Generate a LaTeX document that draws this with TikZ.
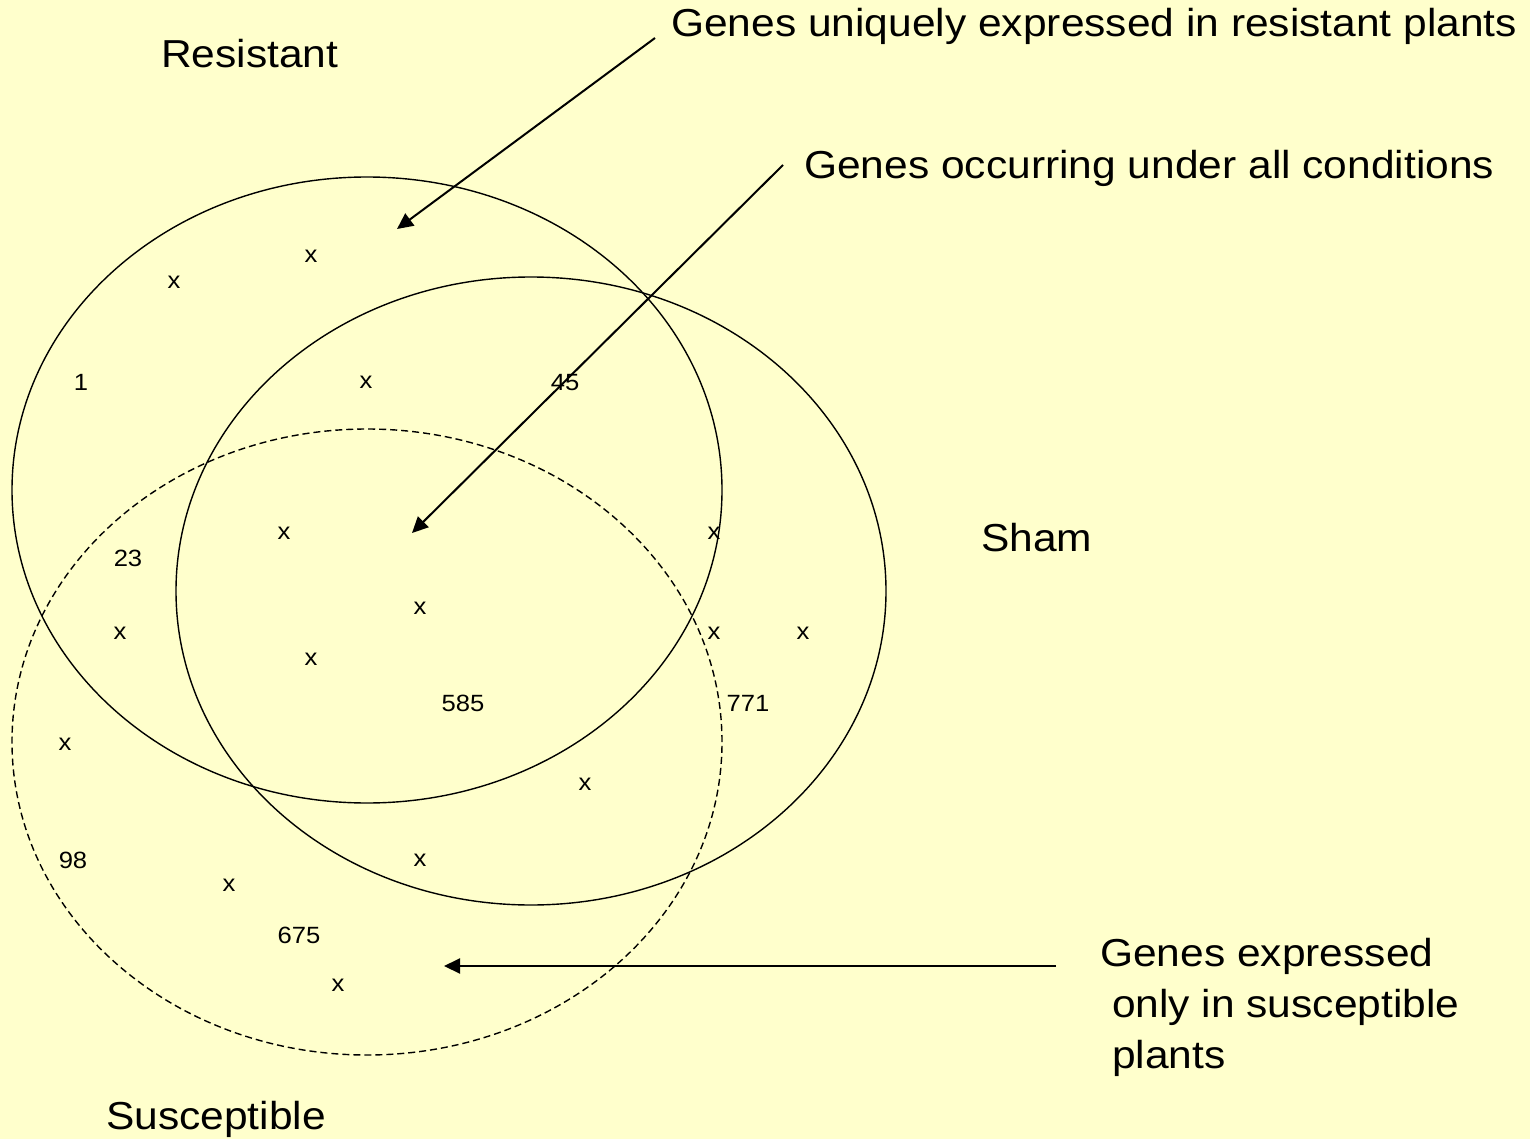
\documentclass[tikz,border=0pt]{standalone}
\usepackage{fontspec}
\setmainfont{Liberation Sans}
\usetikzlibrary{arrows.meta}
\definecolor{paper}{HTML}{FFFFCC}
\tikzset{
  big/.style={font=\fontsize{39}{47}\selectfont, inner sep=0pt, anchor=base west, xscale=1.09},
  lbl/.style={font=\fontsize{23.5}{28}\selectfont, inner sep=0pt, anchor=base, xscale=1.09},
  setline/.style={line width=1.4pt},
  pointer/.style={line width=2pt, -{Triangle[length=16pt, width=15pt]}}
}
\begin{document}
\begin{tikzpicture}[x=1pt, y=-1pt]
  % page and background
  \fill[paper] (0,0) rectangle (1530,1139);
  \useasboundingbox (0,0) rectangle (1530,1139);

  % the three sets
  \draw[setline] (367,490) ellipse [x radius=355pt, y radius=313pt];
  \draw[setline] (531,591) ellipse [x radius=355pt, y radius=314pt];
  \draw[setline, dash pattern=on 7pt off 4pt] (367,742) ellipse [x radius=355pt, y radius=313pt];

  % set names
  \node[big] (resistant) at (161,68) {Resistant};
  \node[big] (sham) at (981,551) {Sham};
  \node[big] (susceptible) at (106,1129) {Susceptible};

  % callouts
  \node[big] (uniq) at (671,37) {Genes uniquely expressed in resistant plants};
  \node[big] (allc) at (804,179) {Genes occurring under all conditions};
  \node[big] (onlyA) at (1100,966) {Genes expressed};
  \node[big] (onlyB) at (1100,1017) {\ only in susceptible};
  \node[big] (onlyC) at (1100,1068) {\ plants};

  % arrow ends
  \coordinate (uniqS) at (655,38);
  \coordinate (uniqE) at (397,229);
  \coordinate (allS) at (783,165);
  \coordinate (allE) at (412,533);
  \coordinate (onlyS) at (1056,966);
  \coordinate (onlyE) at (444,966);
  \draw[pointer] (uniqS) -- (uniqE);
  \draw[pointer] (allS) -- (allE);
  \draw[pointer] (onlyS) -- (onlyE);

  % counts and markers
  \node[lbl] (m1) at (311,263) {x};
  \node[lbl] (m2) at (174,289) {x};
  \node[lbl] (n1) at (81,390) {1};
  \node[lbl] (m3) at (366,388) {x};
  \node[lbl] (n45) at (565,390) {45};
  \node[lbl] (m4) at (284,539) {x};
  \node[lbl] (n23) at (128,566) {23};
  \node[lbl] (m5) at (714,539) {x};
  \node[lbl] (m6) at (420,614) {x};
  \node[lbl] (m7) at (120,639) {x};
  \node[lbl] (m8) at (714,639) {x};
  \node[lbl] (m9) at (803,639) {x};
  \node[lbl] (m10) at (311,665) {x};
  \node[lbl] (n585) at (463,711) {585};
  \node[lbl] (n771) at (748,711) {771};
  \node[lbl] (m11) at (65,750) {x};
  \node[lbl] (m12) at (585,790) {x};
  \node[lbl] (n98) at (73,868) {98};
  \node[lbl] (m13) at (420,866) {x};
  \node[lbl] (m14) at (229,891) {x};
  \node[lbl] (n675) at (299,943) {675};
  \node[lbl] (m15) at (338,991) {x};
\end{tikzpicture}
\end{document}
